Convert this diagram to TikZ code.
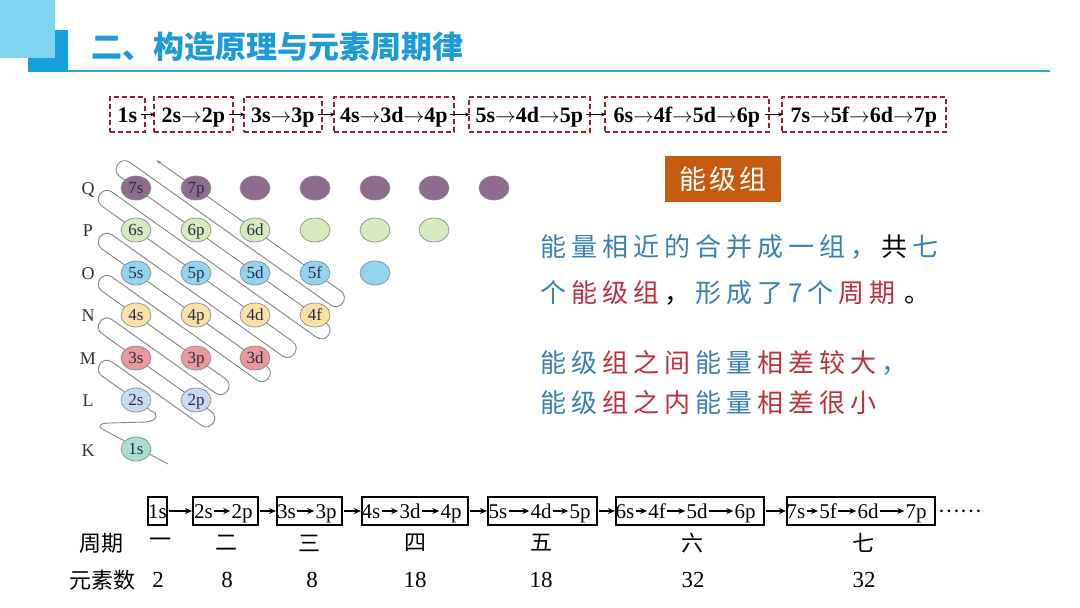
\documentclass[tikz,border=0pt]{standalone}
\usepackage{fontspec}
\setmainfont{Liberation Serif}
\newfontfamily\cjk{Noto Sans CJK SC}
\usetikzlibrary{arrows.meta,shapes.geometric}
\newdimen\mylsamt
\mylsamt=5pt
\def\myls#1{\ifx#1\relax\else#1\kern\mylsamt\expandafter\myls\fi}
\newcommand\tarr{$\rightarrow$}
\definecolor{hcyan}{HTML}{7FD5EE}
\definecolor{hblue}{HTML}{16A0DE}
\definecolor{ttblue}{HTML}{1E9AD6}
\definecolor{hline}{HTML}{35A6D8}
\definecolor{dred}{HTML}{9E1F2E}
\definecolor{cQ}{HTML}{8E6C8E}
\definecolor{cP}{HTML}{D7E9BF}
\definecolor{cO}{HTML}{92D3F0}
\definecolor{cN}{HTML}{F8E0A8}
\definecolor{cM}{HTML}{E8999E}
\definecolor{cL}{HTML}{C9D9F1}
\definecolor{cK}{HTML}{A9DDD3}
\definecolor{orng}{HTML}{C55A11}
\definecolor{pblue}{HTML}{3A80B5}
\definecolor{pred}{HTML}{BE2F3F}
\definecolor{orbtext}{HTML}{2C2C44}
\begin{document}
\begin{tikzpicture}[x=1pt,y=-1pt,
  orb/.style={ellipse, draw=black!45, line width=0.7pt, minimum width=30pt, minimum height=24pt, inner sep=0pt, font=\fontsize{17}{17}\selectfont, text=orbtext, text height=11.5pt, text depth=0pt},
  lvl/.style={font=\fontsize{18}{18}\selectfont, text=black!80, inner sep=0pt, text height=12pt, text depth=0pt},
  dbox/.style={draw=dred, line width=1.8pt, dash pattern=on 5pt off 3pt, minimum height=35pt, inner sep=0pt, font=\bfseries\fontsize{22}{22}\selectfont, anchor=west, text height=15pt, text depth=0pt},
  darr/.style={-{Stealth[length=5pt,width=4pt]}, line width=0.9pt},
  bbox/.style={draw, line width=1.1pt, minimum height=28pt, inner sep=0pt},
  bitem/.style={font=\fontsize{21}{21}\selectfont, inner sep=1pt, text height=14pt, text depth=0pt},
  barr/.style={-{Stealth[length=7pt,width=6pt]}, line width=1.4pt},
  snakeline/.style={draw=black!48, line width=0.9pt},
  ptext/.style={anchor=west, inner sep=0pt, font=\cjk\fontsize{26}{30}\selectfont},
  rowlab/.style={font=\cjk\fontsize{22}{22}\selectfont, inner sep=0pt},
  numlab/.style={font=\fontsize{23}{23}\selectfont, inner sep=0pt}
]
\useasboundingbox (0,0) rectangle (1080,608);
\fill[white] (0,0) rectangle (1080,608);
% header
\fill[hblue] (28,30) rectangle (68,72);
\fill[hcyan] (0,0) rectangle (55,58);
\draw[hline, line width=2.2pt] (68,71) -- (1050,71);
\node[anchor=west, inner sep=0pt, font=\cjk\bfseries\fontsize{31}{36}\selectfont, text=ttblue] (title) at (91,47) {二、构造原理与元素周期律};

% top row dashed boxes
\node[dbox, minimum width=35pt] (a1) at (109,114.5) {1s};
\node[dbox, minimum width=79pt] (a2) at (153,114.5) {2s\tarr 2p};
\node[dbox, minimum width=78pt] (a3) at (243,114.5) {3s\tarr 3p};
\node[dbox, minimum width=120pt] (a4) at (333,114.5) {4s\tarr 3d\tarr 4p};
\node[dbox, minimum width=121pt] (a5) at (468,114.5) {5s\tarr 4d\tarr 5p};
\node[dbox, minimum width=164pt] (a6) at (604,114.5) {6s\tarr 4f\tarr 5d\tarr 6p};
\node[dbox, minimum width=164pt] (a7) at (781,114.5) {7s\tarr 5f\tarr 6d\tarr 7p};
\foreach \i/\j in {a1/a2,a2/a3,a3/a4,a4/a5,a5/a6,a6/a7}
  \draw[darr] ([xshift=-5pt]\i.east) -- ([xshift=2pt]\j.west);

% snake line
\draw[snakeline, -{Stealth[length=5pt,width=3.5pt]}]
 (168,464) -- (104,430) .. controls (96,426) and (100,423) .. (110,423) -- (146,422)
 .. controls (158,421) and (159,413) .. (151.1,411.0)
 -- (102.1,376.1) .. controls +(-9.4,-6.7) and +(-9.4,-6.7) .. (112.1,362.0)
 -- (201.1,425.2) .. controls +(9.4,6.7) and +(9.4,6.7) .. (211.0,411.2)
 -- (102.1,333.8) .. controls +(-9.4,-6.7) and +(-9.4,-6.7) .. (112.1,319.7)
 -- (215.3,393.0) .. controls +(9.4,6.7) and +(9.4,6.7) .. (225.4,378.8)
 -- (102.0,291.2) .. controls +(-9.4,-6.7) and +(-9.4,-6.7) .. (112.0,277.1)
 -- (256.6,379.8) .. controls +(9.4,6.7) and +(9.4,6.7) .. (266.5,365.8)
 -- (102.0,249.0) .. controls +(-9.4,-6.7) and +(-9.4,-6.7) .. (112.1,234.9)
 -- (282.3,355.8) .. controls +(9.4,6.7) and +(9.4,6.7) .. (292.5,341.4)
 -- (102.0,206.2) .. controls +(-9.4,-6.7) and +(-9.4,-6.7) .. (112.1,192.1)
 -- (316.4,337.2) .. controls +(9.4,6.7) and +(9.4,6.7) .. (326.3,323.1)
 -- (119.7,176.4) .. controls +(-9.4,-6.7) and +(-9.4,-6.7) .. (129.8,162.3)
 -- (330.6,305.0) .. controls +(9.4,6.7) and +(9.4,6.7) .. (340.6,290.9)
 -- (156.3,160.1);

% level labels
\node[lvl] (lQ) at (88,188) {Q};
\node[lvl] (lP) at (88,230) {P};
\node[lvl] (lO) at (88,273) {O};
\node[lvl] (lN) at (88,315) {N};
\node[lvl] (lM) at (88,358) {M};
\node[lvl] (lL) at (88,400) {L};
\node[lvl] (lK) at (88,450) {K};

% orbitals
\node[orb, fill=cQ] (q1) at (136,188) {7s};
\node[orb, fill=cQ] (q2) at (196,188) {7p};
\node[orb, fill=cQ] (q3) at (255,188) {};
\node[orb, fill=cQ] (q4) at (315,188) {};
\node[orb, fill=cQ] (q5) at (375,188) {};
\node[orb, fill=cQ] (q6) at (434,188) {};
\node[orb, fill=cQ] (q7) at (494,188) {};
\node[orb, fill=cP] (p1) at (136,230) {6s};
\node[orb, fill=cP] (p2) at (196,230) {6p};
\node[orb, fill=cP] (p3) at (255,230) {6d};
\node[orb, fill=cP] (p4) at (315,230) {};
\node[orb, fill=cP] (p5) at (375,230) {};
\node[orb, fill=cP] (p6) at (434,230) {};
\node[orb, fill=cO] (o1) at (136,273) {5s};
\node[orb, fill=cO] (o2) at (196,273) {5p};
\node[orb, fill=cO] (o3) at (255,273) {5d};
\node[orb, fill=cO] (o4) at (315,273) {5f};
\node[orb, fill=cO] (o5) at (375,273) {};
\node[orb, fill=cN] (n1) at (136,315) {4s};
\node[orb, fill=cN] (n2) at (196,315) {4p};
\node[orb, fill=cN] (n3) at (255,315) {4d};
\node[orb, fill=cN] (n4) at (315,315) {4f};
\node[orb, fill=cM] (m1) at (136,358) {3s};
\node[orb, fill=cM] (m2) at (196,358) {3p};
\node[orb, fill=cM] (m3) at (255,358) {3d};
\node[orb, fill=cL] (l1) at (136,400) {2s};
\node[orb, fill=cL] (l2) at (196,400) {2p};
\node[orb, fill=cK] (k1) at (136,449) {1s};

% right block
\node[fill=orng, minimum width=116pt, minimum height=46pt, inner sep=0pt, text=white, font=\cjk\fontsize{27}{27}\selectfont] (grp) at (723,179) {\mylsamt=3pt\hspace{3pt}\myls 能级组\relax};
\node[ptext] (t1) at (540,247) {\textcolor{pblue}{\myls 能量相近的合并成一组，\relax}\myls 共\relax\textcolor{pblue}{七}};
\node[ptext] (t2) at (540,293) {\textcolor{pblue}{\myls 个\relax}\textcolor{pred}{\myls 能级组\relax}\myls ，\relax\textcolor{pblue}{\myls 形成了7个\relax}\textcolor{pred}{\myls 周期\relax}\kern4pt 。};
\node[ptext] (t3) at (540,363) {\textcolor{pblue}{\myls 能级\relax}\textcolor{pred}{\myls 组之间\relax}\textcolor{pblue}{\myls 能量\relax}\textcolor{pred}{\myls 相差较大\relax}\textcolor{pblue}{，}};
\node[ptext] (t4) at (540,403) {\textcolor{pblue}{\myls 能级\relax}\textcolor{pred}{\myls 组之内\relax}\textcolor{pblue}{\myls 能量\relax}\textcolor{pred}{\myls 相差很\relax 小}};

% bottom row boxes
\node[bbox, minimum width=19pt] (B1) at (157.5,511) {};
\node[bbox, minimum width=65pt] (B2) at (225.5,511) {};
\node[bbox, minimum width=65pt] (B3) at (309.5,511) {};
\node[bbox, minimum width=106pt] (B4) at (415,511) {};
\node[bbox, minimum width=109pt] (B5) at (542.5,511) {};
\node[bbox, minimum width=148pt] (B6) at (690,511) {};
\node[bbox, minimum width=148pt] (B7) at (861,511) {};
\foreach \i/\j in {B1/B2,B2/B3,B3/B4,B4/B5,B5/B6,B6/B7}
  \draw[barr, shorten <=1pt, shorten >=0.5pt] (\i.east) -- (\j.west);
% items
\node[bitem] (b1) at (157.5,511) {1s};
\node[bitem] (b2) at (203.5,511) {2s};
\node[bitem] (b3) at (242,511) {2p};
\node[bitem] (b4) at (286.5,511) {3s};
\node[bitem] (b5) at (326,511) {3p};
\node[bitem] (b6) at (371,511) {4s};
\node[bitem] (b7) at (410,511) {3d};
\node[bitem] (b8) at (451,511) {4p};
\node[bitem] (b9) at (498,511) {5s};
\node[bitem] (b10) at (541,511) {4d};
\node[bitem] (b11) at (580,511) {5p};
\node[bitem] (b12) at (625,511) {6s};
\node[bitem] (b13) at (657,511) {4f};
\node[bitem] (b14) at (697,511) {5d};
\node[bitem] (b15) at (745,511) {6p};
\node[bitem] (b16) at (796,511) {7s};
\node[bitem] (b17) at (828,511) {5f};
\node[bitem] (b18) at (868,511) {6d};
\node[bitem] (b19) at (916,511) {7p};
\foreach \i/\j in {b2/b3,b4/b5,b6/b7,b7/b8,b9/b10,b10/b11,b12/b13,b13/b14,b14/b15,b16/b17,b17/b18,b18/b19}
  \draw[barr] (\i.east) -- (\j.west);
\node[inner sep=0pt, font=\cjk\fontsize{20}{20}\selectfont] (dots) at (960,511) {……};

% period row
\node[rowlab] (zq) at (101.5,543) {周期};
\node[rowlab] (z1) at (160,543) {一};
\node[rowlab] (z2) at (226,543) {二};
\node[rowlab] (z3) at (309,543) {三};
\node[rowlab] (z4) at (415,543) {四};
\node[rowlab] (z5) at (541,543) {五};
\node[rowlab] (z6) at (692,543) {六};
\node[rowlab] (z7) at (863,543) {七};
% element count row
\node[rowlab] (ys) at (102.5,580) {元素数};
\node[numlab] (y1) at (158,580) {2};
\node[numlab] (y2) at (227,580) {8};
\node[numlab] (y3) at (312,580) {8};
\node[numlab] (y4) at (415,580) {18};
\node[numlab] (y5) at (541,580) {18};
\node[numlab] (y6) at (693,580) {32};
\node[numlab] (y7) at (864,580) {32};
\end{tikzpicture}
\end{document}
